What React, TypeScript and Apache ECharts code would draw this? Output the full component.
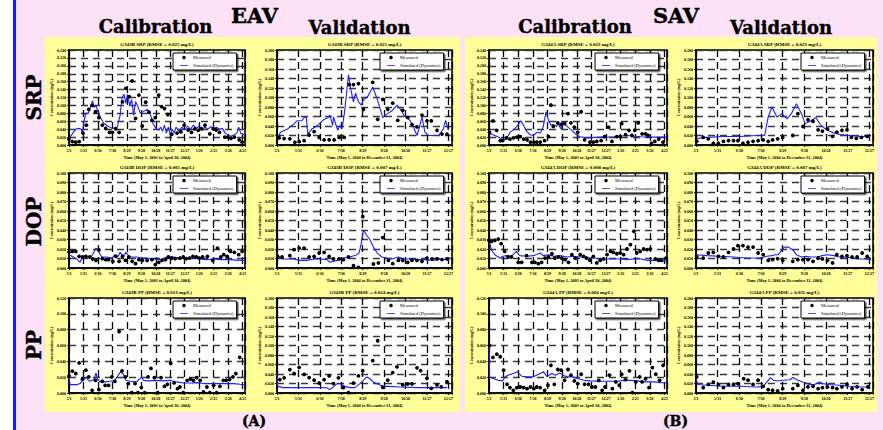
import React, { useEffect, useRef } from 'react';
import * as echarts from 'echarts';

// ---------- tick labels / names ----------
const calTickLabels = ['5/1', '5/31', '6/30', '7/30', '8/29', '9/28', '10/28', '11/27', '12/27', '1/26', '2/25', '3/26', '4/25'];
const valTickLabels = ['5/1', '5/31', '6/30', '7/30', '8/29', '9/28', '10/28', '11/27', '12/27'];
const calTimeName = 'Time (May 1, 2003 to April 30, 2004)';
const valTimeName = 'Time (May 1, 2004 to December 31, 2004)';
const yName = 'Concentration (mg/L)';

// ---------- data: [day since May 1, concentration mg/L] ----------
const eavCalSrpMeas = [[0,0.015],[7,0.0085],[14,0.007],[21,0.0085],[29,0.030],[36,0.050],[41,0.090],[48,0.100],[55,0.084],[62,0.069],[69,0.050],[76,0.042],[84,0.032],[90,0.032],[97,0.041],[104,0.032],[111,0.109],[118,0.143],[125,0.122],[131,0.162],[138,0.067],[145,0.126],[152,0.048],[159,0.108],[166,0.083],[172,0.062],[179,0.069],[186,0.126],[192,0.097],[198,0.092],[205,0.077],[213,0.027],[224,0.030],[232,0.033],[239,0.050],[247,0.038],[254,0.032],[261,0.041],[268,0.037],[275,0.041],[282,0.050],[292,0.028],[299,0.041],[305,0.038],[312,0.032],[323,0.020],[329,0.020],[336,0.017],[343,0.020],[353,0.013],[359,0.007]];
const eavCalSrpSim = [[0,0.015],[8,0.03],[14,0.04],[20,0.042],[25,0.04],[28,0.03],[31,0.06],[35,0.08],[40,0.08],[44,0.095],[49,0.112],[52,0.095],[56,0.1],[60,0.085],[65,0.07],[72,0.055],[80,0.048],[90,0.042],[100,0.045],[106,0.075],[110,0.12],[114,0.128],[118,0.105],[121,0.128],[126,0.1],[130,0.115],[134,0.075],[138,0.11],[142,0.1],[148,0.08],[155,0.085],[162,0.09],[168,0.08],[174,0.055],[180,0.042],[186,0.038],[190,0.045],[194,0.035],[198,0.05],[202,0.03],[206,0.045],[210,0.025],[214,0.04],[218,0.03],[222,0.045],[228,0.035],[234,0.045],[240,0.038],[246,0.048],[252,0.04],[258,0.05],[264,0.042],[270,0.048],[276,0.04],[282,0.045],[288,0.04],[294,0.046],[300,0.042],[306,0.045],[312,0.04],[318,0.042],[324,0.03],[330,0.025],[336,0.022],[342,0.025],[348,0.03],[352,0.045],[356,0.03],[365,0.025]];

const eavValSrpMeas = [[3,0.015],[10,0.0135],[18,0.013],[25,0.0057],[31,0.007],[38,0.009],[45,0.021],[52,0.028],[59,0.016],[66,0.011],[73,0.011],[80,0.011],[87,0.016],[94,0.016],[101,0.127],[107,0.127],[114,0.129],[121,0.075],[134,0.132],[141,0.054],[148,0.096],[155,0.075],[162,0.088],[169,0.052],[176,0.073],[183,0.058],[189,0.043],[196,0.038],[203,0.063],[210,0.051],[216,0.051],[224,0.031],[231,0.023],[238,0.023]];
const eavValSrpSim = [[0,0.013],[5,0.027],[14,0.033],[21,0.041],[28,0.051],[35,0.051],[38,0.058],[41,0.059],[43,0.023],[49,0.034],[54,0.038],[58,0.043],[65,0.053],[72,0.058],[74,0.063],[78,0.041],[79,0.059],[85,0.031],[88,0.041],[91,0.034],[94,0.063],[97,0.102],[100,0.148],[103,0.12],[107,0.091],[110,0.109],[114,0.091],[118,0.084],[121,0.095],[127,0.102],[134,0.122],[140,0.098],[148,0.058],[155,0.066],[161,0.072],[168,0.084],[172,0.077],[179,0.060],[186,0.052],[191,0.038],[196,0.020],[200,0.041],[203,0.059],[207,0.027],[212,0.020],[226,0.020],[233,0.034],[236,0.052],[238,0.041],[240,0.031]];

const savCalSrpMeas = [[1,0.032],[8,0.061],[16,0.037],[23,0.011],[28,0.011],[36,0.018],[43,0.015],[50,0.018],[57,0.020],[64,0.021],[71,0.015],[78,0.013],[85,0.007],[92,0.007],[98,0.007],[105,0.007],[114,0.011],[122,0.021],[127,0.101],[132,0.047],[141,0.056],[148,0.052],[155,0.054],[162,0.079],[168,0.056],[175,0.045],[182,0.032],[189,0.084],[196,0.013],[207,0.007],[214,0.007],[221,0.009],[230,0.011],[237,0.021],[245,0.045],[252,0.009],[262,0.021],[269,0.021],[272,0.054],[280,0.026],[287,0.037],[293,0.024],[299,0.037],[306,0.056],[314,0.028],[321,0.028],[326,0.024],[333,0.004],[340,0.009],[348,0.015],[357,0.007]];
const savCalSrpSim = [[0,0.030],[8,0.026],[19,0.020],[29,0.013],[36,0.015],[43,0.032],[53,0.041],[60,0.052],[65,0.061],[70,0.052],[77,0.035],[84,0.026],[91,0.024],[98,0.032],[105,0.030],[111,0.045],[117,0.084],[122,0.062],[127,0.050],[132,0.052],[138,0.047],[142,0.054],[147,0.041],[151,0.058],[156,0.052],[163,0.044],[170,0.037],[177,0.028],[187,0.021],[201,0.018],[228,0.020],[256,0.021],[283,0.024],[311,0.021],[338,0.020],[365,0.020]];

const savValSrpMeas = [[1,0.0078],[10,0.016],[17,0.013],[24,0.0036],[31,0.0036],[38,0.0078],[45,0.009],[52,0.009],[58,0.009],[65,0.0036],[72,0.0057],[79,0.0078],[86,0.009],[93,0.0107],[100,0.0078],[106,0.0107],[113,0.013],[120,0.016],[134,0.020],[141,0.066],[148,0.039],[155,0.053],[162,0.050],[169,0.032],[175,0.029],[182,0.034],[189,0.018],[195,0.027],[202,0.031],[209,0.032],[215,0.016],[222,0.014],[229,0.016],[237,0.018]];
const savValSrpSim = [[0,0.013],[8,0.015],[15,0.016],[38,0.018],[61,0.018],[84,0.020],[95,0.020],[100,0.059],[105,0.080],[112,0.059],[119,0.066],[126,0.055],[132,0.066],[139,0.087],[146,0.066],[151,0.045],[158,0.050],[166,0.058],[172,0.043],[179,0.034],[185,0.029],[192,0.025],[199,0.022],[213,0.020],[227,0.018],[241,0.018]];

const eavCalDopMeas = [[0,0.0168],[7,0.0175],[14,0.0175],[21,0.0123],[28,0.0116],[35,0.0123],[43,0.0116],[49,0.0095],[56,0.008],[62,0.019],[69,0.0098],[76,0.0088],[82,0.0088],[91,0.007],[97,0.0123],[104,0.007],[111,0.0123],[117,0.008],[124,0.0116],[131,0.007],[138,0.0046],[145,0.0088],[152,0.008],[162,0.008],[172,0.0088],[179,0.0035],[186,0.006],[193,0.008],[200,0.0088],[206,0.0116],[213,0.0105],[220,0.0098],[230,0.0105],[237,0.0116],[243,0.0098],[250,0.0105],[257,0.0123],[264,0.0116],[270,0.0105],[277,0.0116],[287,0.0123],[298,0.008],[308,0.021],[315,0.0116],[321,0.014],[328,0.0123],[335,0.0175],[343,0.0165],[352,0.014],[359,0.0175]];
const eavCalDopSim = [[0,0.014],[9,0.0116],[16,0.0095],[23,0.006],[28,0.0123],[37,0.0116],[47,0.0123],[56,0.021],[61,0.0175],[68,0.0116],[78,0.0116],[89,0.0105],[95,0.014],[102,0.0123],[106,0.0165],[113,0.0123],[118,0.0165],[126,0.0116],[140,0.0116],[151,0.0105],[161,0.0105],[175,0.0095],[189,0.0088],[203,0.0116],[216,0.0116],[230,0.0105],[244,0.0095],[258,0.0105],[272,0.0095],[286,0.0088],[299,0.0095],[313,0.0088],[334,0.0088],[355,0.008],[365,0.008]];

const eavValDopMeas = [[1,0.0116],[7,0.0116],[18,0.013],[24,0.0193],[31,0.021],[38,0.021],[45,0.0116],[52,0.0123],[59,0.0158],[66,0.0165],[73,0.0123],[79,0.0095],[87,0.0095],[93,0.0088],[100,0.0116],[107,0.0025],[114,0.0007],[120,0.054],[135,0.0042],[142,0.0053],[148,0.032],[156,0.008],[162,0.0046],[170,0.008],[176,0.008],[183,0.006],[189,0.008],[196,0.008],[203,0.007],[210,0.0105],[217,0.0095],[224,0.0095],[231,0.0088],[238,0.0095]];
const eavValDopSim = [[0,0.016],[4,0.0105],[9,0.0095],[23,0.0095],[33,0.008],[42,0.008],[51,0.0095],[61,0.0095],[70,0.0088],[74,0.006],[84,0.008],[93,0.0105],[102,0.0116],[112,0.014],[115,0.016],[118,0.026],[121,0.040],[125,0.035],[130,0.030],[135,0.022],[140,0.016],[147,0.0116],[154,0.0105],[161,0.0095],[170,0.0116],[177,0.0095],[186,0.0095],[196,0.0088],[205,0.0088],[219,0.008],[228,0.0095],[238,0.0088]];

const savCalDopMeas = [[0,0.029],[5,0.028],[12,0.029],[19,0.0305],[25,0.0256],[32,0.0175],[39,0.0116],[46,0.0116],[60,0.006],[67,0.006],[77,0.013],[88,0.006],[94,0.006],[101,0.0046],[108,0.006],[115,0.0105],[122,0.0116],[129,0.015],[135,0.0105],[142,0.0116],[149,0.0105],[156,0.0088],[163,0.006],[170,0.014],[177,0.0105],[187,0.014],[194,0.0123],[200,0.0105],[207,0.008],[214,0.0123],[221,0.0053],[228,0.008],[235,0.0095],[242,0.014],[249,0.0175],[255,0.0165],[262,0.015],[269,0.0158],[276,0.014],[283,0.02],[290,0.0246],[297,0.0386],[303,0.0158],[310,0.0175],[317,0.02],[324,0.0193],[331,0.02],[341,0.0095],[348,0.008],[354,0.008],[363,0.0105]];
const savCalDopSim = [[0,0.0298],[5,0.019],[12,0.014],[22,0.0105],[29,0.0123],[36,0.013],[46,0.0123],[56,0.0175],[63,0.013],[77,0.0123],[91,0.013],[105,0.0158],[111,0.013],[122,0.014],[132,0.0123],[146,0.013],[160,0.0116],[173,0.0123],[187,0.0116],[201,0.0105],[215,0.0105],[228,0.0095],[242,0.0095],[256,0.0095],[270,0.0095],[283,0.0088],[297,0.0095],[311,0.0095],[325,0.008],[338,0.008],[352,0.008],[365,0.007]];

const savValDopMeas = [[1,0.0116],[10,0.0105],[17,0.0158],[24,0.0165],[31,0.0123],[38,0.0116],[45,0.0165],[52,0.02],[58,0.0235],[65,0.0235],[72,0.022],[79,0.022],[86,0.0158],[93,0.014],[100,0.008],[106,0.0088],[113,0.0098],[120,0.008],[134,0.007],[141,0.0088],[148,0.0088],[155,0.0088],[162,0.007],[169,0.0105],[175,0.0095],[182,0.008],[189,0.0053],[195,0.014],[202,0.0123],[209,0.013],[216,0.0116],[223,0.0116],[230,0.0158],[237,0.0123]];
const savValDopSim = [[0,0.014],[15,0.013],[33,0.0123],[52,0.0116],[70,0.0105],[89,0.0105],[98,0.0123],[105,0.013],[110,0.014],[114,0.014],[119,0.019],[122,0.022],[128,0.022],[134,0.019],[139,0.014],[146,0.0116],[152,0.0123],[159,0.0116],[168,0.0116],[175,0.013],[182,0.014],[191,0.013],[198,0.0116],[207,0.0116],[216,0.0105],[226,0.0095],[235,0.0095],[242,0.0088]];

const eavCalPpMeas = [[0,0.0216],[7,0.0276],[14,0.0246],[21,0.038],[28,0.0174],[35,0.0288],[41,0.0204],[48,0.0034],[55,0.016],[62,0.0042],[69,0.0148],[75,0.0097],[82,0.0097],[89,0.0204],[95,0.0148],[104,0.0776],[110,0.028],[117,0.0204],[123,0.0119],[130,0.0004],[137,0.0119],[143,0.0004],[150,0.0068],[157,0.0004],[164,0.0204],[170,0.031],[177,0.0195],[184,0.0004],[191,0.0195],[198,0.0085],[204,0.011],[211,0.0373],[218,0.0127],[225,0.0055],[230,0.0076],[237,0.0004],[245,0.016],[252,0.0174],[258,0.016],[265,0.0195],[272,0.016],[279,0.0013],[286,0.0076],[292,0.0004],[300,0.0097],[306,0.0004],[313,0.0085],[320,0.016],[326,0.016],[333,0.017],[340,0.0204],[346,0.0246],[354,0.045]];
const eavCalPpSim = [[0,0.0204],[2,0.0106],[16,0.0106],[23,0.0119],[28,0.016],[35,0.0195],[43,0.0148],[52,0.017],[56,0.0254],[59,0.018],[64,0.014],[75,0.014],[85,0.0148],[95,0.016],[102,0.0225],[107,0.0267],[113,0.0237],[118,0.016],[126,0.0148],[140,0.014],[151,0.0204],[154,0.016],[165,0.0153],[182,0.016],[196,0.0153],[209,0.016],[223,0.014],[237,0.0127],[251,0.0127],[265,0.0131],[279,0.0119],[299,0.0119],[320,0.0119],[341,0.0119],[355,0.011],[365,0.0106]];

const eavValPpMeas = [[4,0.028],[10,0.032],[18,0.049],[24,0.041],[31,0.054],[38,0.039],[45,0.0325],[52,0.027],[59,0.021],[66,0.028],[73,0.036],[79,0.0198],[86,0.032],[93,0.0113],[100,0.0007],[107,0.021],[114,0.036],[120,0.047],[134,0.068],[141,0.110],[148,0.012],[155,0.027],[162,0.043],[168,0.055],[176,0.017],[183,0.019],[189,0.019],[196,0.053],[201,0.047],[210,0.031],[216,0.0099],[224,0.017],[230,0.013],[238,0.024]];
const eavValPpSim = [[0,0.041],[1,0.014],[9,0.0113],[33,0.0113],[56,0.0113],[70,0.011],[74,0.007],[79,0.0127],[84,0.0198],[88,0.0198],[95,0.014],[102,0.0113],[109,0.0113],[116,0.0198],[121,0.027],[126,0.034],[130,0.030],[135,0.023],[142,0.018],[149,0.014],[156,0.014],[172,0.0127],[196,0.0113],[219,0.0113],[238,0.0113]];

const savCalPpMeas = [[1,0.060],[8,0.045],[16,0.049],[23,0.0458],[30,0.0288],[37,0.011],[43,0.0068],[50,0.0034],[57,0.0068],[64,0.0076],[71,0.0068],[78,0.0055],[85,0.0076],[92,0.0055],[98,0.0076],[105,0.0068],[114,0.0034],[121,0.0098],[127,0.035],[134,0.011],[141,0.0297],[148,0.0288],[155,0.016],[162,0.0297],[168,0.0225],[175,0.0153],[182,0.0119],[189,0.0237],[196,0.011],[204,0.011],[211,0.0076],[218,0.0076],[225,0.016],[232,0.0034],[238,0.0076],[247,0.0225],[253,0.0055],[260,0.014],[267,0.0098],[272,0.0237],[280,0.017],[288,0.028],[294,0.0004],[301,0.014],[309,0.0203],[314,0.014],[321,0.018],[328,0.0068],[335,0.032],[342,0.0237],[350,0.016],[357,0.035]];
const savCalPpSim = [[0,0.061],[1,0.0204],[8,0.0183],[19,0.016],[28,0.0153],[33,0.0204],[39,0.0225],[50,0.0246],[58,0.0267],[67,0.0212],[77,0.0204],[91,0.0204],[102,0.0237],[112,0.0267],[118,0.0212],[123,0.0225],[129,0.0246],[136,0.0225],[145,0.0254],[152,0.0225],[160,0.0204],[171,0.0204],[181,0.0183],[195,0.016],[209,0.0153],[223,0.0148],[243,0.0148],[264,0.0148],[277,0.016],[291,0.016],[305,0.0153],[318,0.014],[339,0.014],[352,0.0131],[365,0.0127]];

const savValPpMeas = [[1,0.034],[10,0.0113],[17,0.018],[24,0.023],[31,0.018],[38,0.0113],[45,0.018],[52,0.018],[58,0.0198],[66,0.030],[72,0.027],[79,0.018],[86,0.027],[93,0.014],[100,0.007],[106,0.0057],[113,0.0042],[120,0.009],[134,0.009],[141,0.016],[148,0.0057],[155,0.0127],[162,0.014],[169,0.009],[175,0.0113],[182,0.0127],[189,0.0113],[195,0.009],[202,0.0127],[209,0.018],[216,0.009],[223,0.0127],[230,0.007],[238,0.0127]];
const savValPpSim = [[0,0.034],[2,0.018],[15,0.0163],[38,0.0141],[61,0.0141],[84,0.0127],[93,0.014],[98,0.023],[103,0.0325],[107,0.027],[112,0.0254],[121,0.027],[130,0.028],[134,0.0325],[141,0.027],[148,0.023],[152,0.0212],[157,0.018],[164,0.018],[171,0.023],[175,0.0198],[184,0.018],[198,0.0163],[212,0.0141],[226,0.0127],[240,0.0127]];

// ---------- layout ----------
const COLS = [
  { left: 69, width: 176 },
  { left: 277, width: 175 },
  { left: 489, width: 178 },
  { left: 696, width: 177 },
];
const ROWS = [50, 173, 298];
const PLOT_H = 95;
const SMALL = "'Liberation Serif', 'Times New Roman', serif";
const BIG = "'DejaVu Serif', serif";
const BLUE = '#1e1eff';

type Panel = { title: string; col: number; row: number; cal: boolean; yMax: number; yStep: number; meas: number[][]; sim: number[][] };

const panels: Panel[] = [
  { title: 'G343B SRP (RMSE = 0.025 mg/L)', col: 0, row: 0, cal: true, yMax: 0.24, yStep: 0.02, meas: eavCalSrpMeas, sim: eavCalSrpSim },
  { title: 'G343B SRP (RMSE = 0.025 mg/L)', col: 1, row: 0, cal: false, yMax: 0.2, yStep: 0.02, meas: eavValSrpMeas, sim: eavValSrpSim },
  { title: 'G344A SRP (RMSE = 0.023 mg/L)', col: 2, row: 0, cal: true, yMax: 0.24, yStep: 0.02, meas: savCalSrpMeas, sim: savCalSrpSim },
  { title: 'G344A SRP (RMSE = 0.023 mg/L)', col: 3, row: 0, cal: false, yMax: 0.2, yStep: 0.02, meas: savValSrpMeas, sim: savValSrpSim },
  { title: 'G343B DOP (RMSE = 0.005 mg/L)', col: 0, row: 1, cal: true, yMax: 0.1, yStep: 0.01, meas: eavCalDopMeas, sim: eavCalDopSim },
  { title: 'G343B DOP (RMSE = 0.007 mg/L)', col: 1, row: 1, cal: false, yMax: 0.1, yStep: 0.01, meas: eavValDopMeas, sim: eavValDopSim },
  { title: 'G344A DOP (RMSE = 0.008 mg/L)', col: 2, row: 1, cal: true, yMax: 0.1, yStep: 0.01, meas: savCalDopMeas, sim: savCalDopSim },
  { title: 'G344A DOP (RMSE = 0.007 mg/L)', col: 3, row: 1, cal: false, yMax: 0.1, yStep: 0.01, meas: savValDopMeas, sim: savValDopSim },
  { title: 'G343B PP (RMSE = 0.013 mg/L)', col: 0, row: 2, cal: true, yMax: 0.12, yStep: 0.02, meas: eavCalPpMeas, sim: eavCalPpSim },
  { title: 'G343B PP (RMSE = 0.024 mg/L)', col: 1, row: 2, cal: false, yMax: 0.2, yStep: 0.02, meas: eavValPpMeas, sim: eavValPpSim },
  { title: 'G344A PP (RMSE = 0.004 mg/L)', col: 2, row: 2, cal: true, yMax: 0.12, yStep: 0.02, meas: savCalPpMeas, sim: savCalPpSim },
  { title: 'G344A PP (RMSE = 0.011 mg/L)', col: 3, row: 2, cal: false, yMax: 0.2, yStep: 0.02, meas: savValPpMeas, sim: savValPpSim },
];

function bigText(text: string, x: number, y: number, size: number, rotation = 0) {
  return {
    type: 'text', x, y, rotation, z: 5,
    style: { text, fontFamily: BIG, fontWeight: 'bold', fontSize: size, fill: '#000', stroke: '#000', lineWidth: 0.4, align: 'center', verticalAlign: 'middle' },
  };
}

function buildOption() {
  const grid: any[] = [], xAxis: any[] = [], yAxis: any[] = [], series: any[] = [], legend: any[] = [];
  const graphic: any[] = [
    { type: 'rect', z: -10, shape: { x: 0, y: 0, width: 13, height: 430 }, style: { fill: '#ffffff' } },
    { type: 'rect', z: -10, shape: { x: 13, y: 0, width: 3, height: 430 }, style: { fill: '#1a1aff' } },
    { type: 'rect', z: -10, shape: { x: 45, y: 37, width: 415, height: 375 }, style: { fill: '#ffff99' } },
    { type: 'rect', z: -10, shape: { x: 465, y: 37, width: 412, height: 375 }, style: { fill: '#ffff99' } },
    bigText('EAV', 254.5, 15, 21),
    bigText('Calibration', 155.5, 26.5, 18),
    bigText('Validation', 359.5, 27.5, 18),
    bigText('SAV', 676, 15, 21),
    bigText('Calibration', 575, 26.5, 18),
    bigText('Validation', 781, 27.5, 18),
    bigText('SRP', 34, 97.5, 20, Math.PI / 2),
    bigText('DOP', 34, 221.5, 20, Math.PI / 2),
    bigText('PP', 34, 345, 20, Math.PI / 2),
    bigText('(A)', 254, 421, 14),
    bigText('(B)', 675.5, 421, 14),
  ];

  panels.forEach((p, i) => {
    const c = COLS[p.col];
    const top = ROWS[p.row];
    const labels = p.cal ? calTickLabels : valTickLabels;
    grid.push({ left: c.left, top, width: c.width, height: PLOT_H, show: true, backgroundColor: '#ffffff', borderColor: '#000', borderWidth: 1.6 });
    xAxis.push({
      type: 'value', gridIndex: i, min: 0, max: p.cal ? 365 : 245, interval: 30,
      name: p.cal ? calTimeName : valTimeName, nameLocation: 'middle', nameGap: 10,
      nameTextStyle: { fontFamily: SMALL, fontWeight: 'bold', fontSize: 4.3, color: '#000' },
      axisLine: { show: true, onZero: false, lineStyle: { color: '#000', width: 1.6 } },
      axisTick: { show: true, length: 2, lineStyle: { color: '#000', width: 0.8 } },
      axisLabel: {
        fontFamily: SMALL, fontWeight: 'bold', fontSize: 4, color: '#000', margin: 3,
        formatter: (v: number) => (v % 30 === 0 && labels[v / 30] !== undefined ? labels[v / 30] : ''),
      },
      splitLine: { show: true, lineStyle: { color: '#000', width: 1.3, type: [7, 5] } },
    });
    yAxis.push({
      type: 'value', gridIndex: i, min: 0, max: p.yMax, interval: p.yStep,
      name: yName, nameLocation: 'middle', nameGap: 15, nameRotate: 90,
      nameTextStyle: { fontFamily: SMALL, fontWeight: 'bold', fontSize: 4, color: '#000' },
      axisLine: { show: true, onZero: false, lineStyle: { color: '#000', width: 1.6 } },
      axisTick: { show: true, length: 2, lineStyle: { color: '#000', width: 0.8 } },
      axisLabel: { fontFamily: SMALL, fontWeight: 'bold', fontSize: 4, color: '#000', margin: 3, formatter: (v: number) => v.toFixed(3) },
      splitLine: { show: true, lineStyle: { color: '#3a3a3a', width: 1.3, type: [7, 5] } },
    });
    series.push({
      type: 'line', name: 'Simulated (Dynamics)', xAxisIndex: i, yAxisIndex: i, data: p.sim,
      symbol: 'none', showSymbol: false, lineStyle: { color: BLUE, width: 1.1 }, itemStyle: { color: BLUE }, z: 3,
    });
    series.push({
      type: 'scatter', name: 'Measured', xAxisIndex: i, yAxisIndex: i, data: p.meas,
      symbol: 'circle', symbolSize: 3.8, itemStyle: { color: '#000', opacity: 1 }, z: 4,
    });
    legend.push({
      orient: 'vertical', left: c.left + c.width - 72, top: top + 3,
      data: [
        { name: 'Measured', icon: 'circle' },
        { name: 'Simulated (Dynamics)', icon: 'path://M0,0 L10,0 L10,1 L0,1 Z', itemStyle: { color: BLUE } },
      ],
      itemWidth: 8, itemHeight: 3.5, itemGap: 3, padding: [2, 3, 2, 7],
      backgroundColor: '#fff', borderColor: '#000', borderWidth: 1,
      shadowColor: 'rgba(0,0,0,0.65)', shadowOffsetX: 1.5, shadowOffsetY: 1.5, shadowBlur: 0,
      textStyle: { fontFamily: SMALL, fontSize: 4.5, color: '#000' }, selectedMode: false,
    });
    graphic.push({
      type: 'text', x: c.left + c.width / 2, y: top - 6, z: 5,
      style: { text: p.title, fontFamily: SMALL, fontWeight: 'bold', fontSize: 5, fill: '#000', align: 'center', verticalAlign: 'middle' },
    });
  });

  return {
    animation: false,
    backgroundColor: '#fde2f7',
    grid, xAxis, yAxis, series, legend, graphic,
  };
}

export default function App() {
  const ref = useRef<HTMLDivElement>(null);
  useEffect(() => {
    if (!ref.current) return;
    const chart = echarts.init(ref.current, undefined, { renderer: 'svg' });
    chart.setOption(buildOption() as any);
    return () => chart.dispose();
  }, []);
  return <div ref={ref} style={{ position: 'fixed', left: 0, top: 0, width: 883, height: 430 }} />;
}
